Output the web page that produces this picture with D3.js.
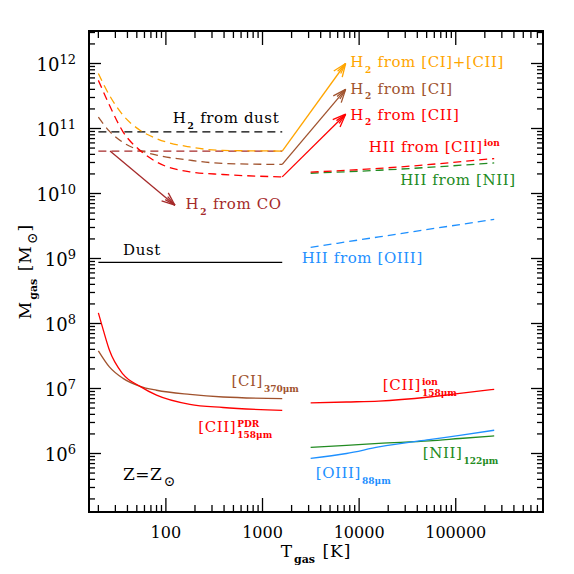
<!DOCTYPE html>
<html><head><meta charset="utf-8">
<script src="https://cdn.jsdelivr.net/npm/d3@7"></script>
<style>body{margin:0;background:#fff}svg{display:block}text{white-space:pre}</style>
</head><body><svg id="c" width="574" height="574"></svg>
<script>
// ---------------- data ----------------
const T_cold = [20, 26, 36, 54, 80, 177, 390, 1600];
const M_H2_CICII = [7.0e11, 3.25e11, 1.6e11, 9.4e10, 7.0e10, 5.2e10, 4.6e10, 4.5e10];
const M_H2_CII   = [5.5e11, 2.3e11, 8.9e10, 4.6e10, 3.06e10, 2.15e10, 1.96e10, 1.8e10];
const M_H2_CI    = [1.5e11, 9.1e10, 6.1e10, 4.6e10, 3.9e10, 3.25e10, 2.9e10, 2.8e10];
const T_flat = [20, 1600];
const M_H2_dust = [8.9e10, 8.9e10];
const M_H2_CO = [4.5e10, 4.5e10];
const M_dust = [8.7e8, 8.7e8];

const T_CII_PDR = [20, 22.5, 26, 36, 54, 80, 177, 390, 1600];
const M_CII_PDR = [1.46e8, 7.9e7, 3.9e7, 1.66e7, 1.08e7, 7.9e6, 5.7e6, 5.1e6, 4.6e6];
const T_CI = [20, 26, 36, 54, 80, 177, 390, 1600];
const M_CI_370 = [3.8e7, 2.15e7, 1.43e7, 1.08e7, 9.4e6, 8.1e6, 7.4e6, 7.0e6];

const T_hot = [3150, 7400, 16000, 53000, 110000, 250000];
const M_CII_ion = [6.0e6, 6.2e6, 6.4e6, 7.4e6, 8.4e6, 9.7e6];
const M_NII_122 = [1.24e6, 1.33e6, 1.43e6, 1.56e6, 1.7e6, 1.87e6];
const M_OIII_88 = [8.4e5, 1.0e6, 1.26e6, 1.64e6, 1.9e6, 2.28e6];

const T_hotd = [3150, 16000, 250000];
const M_HII_CII = [2.13e10, 2.43e10, 3.45e10];
const M_HII_NII = [2.05e10, 2.28e10, 2.95e10];
const M_HII_OIII = [1.48e9, 2.15e9, 4.0e9];

// arrows: [T0, M0, T1, M1]
const arrowCICII = [1600, 4.5e10, 7250, 1.0e12];
const arrowCI    = [1600, 2.8e10, 7250, 4.0e11];
const arrowCII   = [1600, 1.8e10, 7250, 1.66e11];
const arrowCO    = [26.4, 4.5e10, 124, 6.6e9];

const xTickLabels = ["100", "1000", "10000", "100000"];
const xTickValues = [100, 1000, 10000, 100000];
const yTickExp = [6, 7, 8, 9, 10, 11, 12];

const colOrange = "#ffa500", colSienna = "#a0522d", colRed = "#ff0000",
      colCO = "#a52a2a", colGreen = "#228b22", colBlue = "#1e90ff";

// ---------------- layout ----------------
const svg = d3.select("#c");
const L = 89, R = 543, Tp = 31, B = 512;
const x = d3.scaleLog().domain([16, 8e5]).range([L, R]);
const y = d3.scaleLog().domain([Math.pow(10, 5.1), Math.pow(10, 12.5)]).range([B, Tp]);

const serif = "DejaVu Serif";

// ---------------- ticks ----------------
const ax = svg.append("g").attr("stroke", "#000").attr("stroke-width", 1.3);
function minorList(lo, hi) {
  const out = [];
  for (let e = Math.floor(Math.log10(lo)); e <= Math.ceil(Math.log10(hi)); e++)
    for (let k = 1; k <= 9; k++) { const v = k * Math.pow(10, e); if (v > lo && v < hi) out.push({v, major: k === 1}); }
  return out;
}
minorList(16, 8e5).forEach(d => {
  const len = d.major ? 14 : 7, px = x(d.v);
  ax.append("line").attr("x1", px).attr("x2", px).attr("y1", B).attr("y2", B - len);
  ax.append("line").attr("x1", px).attr("x2", px).attr("y1", Tp).attr("y2", Tp + len);
});
minorList(Math.pow(10, 5.1), Math.pow(10, 12.5)).forEach(d => {
  const len = d.major ? 12 : 6, py = y(d.v);
  ax.append("line").attr("y1", py).attr("y2", py).attr("x1", L).attr("x2", L + len);
  ax.append("line").attr("y1", py).attr("y2", py).attr("x1", R).attr("x2", R - len);
});
svg.append("rect").attr("x", L).attr("y", Tp).attr("width", R - L).attr("height", B - Tp)
  .attr("fill", "none").attr("stroke", "#000").attr("stroke-width", 2);

xTickValues.forEach((v, i) => {
  svg.append("text").attr("x", x(v)).attr("y", 538).attr("text-anchor", "middle")
    .attr("font-family", serif).attr("font-size", 16).text(xTickLabels[i]);
});
yTickExp.forEach(e => {
  const py = y(Math.pow(10, e));
  const t = svg.append("text").attr("y", py + 7).attr("x", 76).attr("text-anchor", "end")
    .attr("font-family", serif).attr("font-size", 18);
  t.append("tspan").text("10");
  t.append("tspan").attr("dy", -7).attr("font-size", 13).text(String(e));
});

// ---------------- rich text helper ----------------
function rich(parent, px, py, parts, color, size, ls) {
  const g = parent.append("g").attr("transform", `translate(${px},${py})`).attr("fill", color);
  let cx = 0;
  const small = Math.round(size * 0.62);
  function put(txt, dx, dy, fs, bold, spacing) {
    const t = g.append("text").attr("x", dx).attr("y", dy).attr("font-family", serif)
      .attr("font-size", fs).attr("font-weight", bold ? "bold" : "normal")
      .attr("letter-spacing", spacing || 0).text(txt);
    return t.node().getComputedTextLength();
  }
  parts.forEach(p => {
    if (p.n !== undefined) cx += put(p.n, cx, 0, size, false, ls);
    else if (p.sub !== undefined && p.sup !== undefined) {
      const w1 = put(p.sup, cx + 1, -size * 0.36, small, true);
      const w2 = put(p.sub, cx + 1, size * 0.38, small, true);
      cx += Math.max(w1, w2) + 2;
    } else if (p.sub !== undefined) {
      const big = p.sym ? Math.round(size * 0.8) : small;
      cx += put(p.sub, cx + 1, size * 0.36, big, !p.sym) + 2;
    }
    else if (p.sup !== undefined) cx += put(p.sup, cx + 1, -size * 0.4, small, true) + 2;
  });
  return {g, width: cx};
}

// ---------------- lines ----------------
const line = d3.line().x(d => x(d[0])).y(d => y(d[1])).curve(d3.curveMonotoneX);
function draw(Ts, Ms, color, dashed) {
  svg.append("path").datum(Ts.map((t, i) => [t, Ms[i]])).attr("d", line)
    .attr("fill", "none").attr("stroke", color).attr("stroke-width", 1.3)
    .attr("stroke-dasharray", dashed ? "8,5" : null);
}
function arrow(a, color) {
  const x0 = x(a[0]), y0 = y(a[1]), x1 = x(a[2]), y1 = y(a[3]);
  const g = svg.append("g").attr("stroke", color).attr("stroke-width", 1.3).attr("fill", "none");
  g.append("line").attr("x1", x0).attr("y1", y0).attr("x2", x1).attr("y2", y1);
  const ang = Math.atan2(y1 - y0, x1 - x0), len = 14, hw = 0.38;
  [ang + Math.PI - hw, ang + Math.PI + hw, ang + Math.PI - hw * 0.45, ang + Math.PI + hw * 0.45].forEach((a2, i) => {
    const l = i < 2 ? len : len * 0.8;
    g.append("line").attr("x1", x1).attr("y1", y1)
      .attr("x2", x1 + l * Math.cos(a2)).attr("y2", y1 + l * Math.sin(a2));
  });
}

draw(T_flat, M_H2_dust, "#000", true);
draw(T_flat, M_H2_CO, colCO, true);
draw(T_cold, M_H2_CI, colSienna, true);
draw(T_cold, M_H2_CII, colRed, true);
draw(T_cold, M_H2_CICII, colOrange, true);
draw(T_flat, M_dust, "#000", false);
draw(T_CI, M_CI_370, colSienna, false);
draw(T_CII_PDR, M_CII_PDR, colRed, false);
draw(T_hot, M_CII_ion, colRed, false);
draw(T_hot, M_NII_122, colGreen, false);
draw(T_hot, M_OIII_88, colBlue, false);
draw(T_hotd, M_HII_NII, colGreen, true);
draw(T_hotd, M_HII_CII, colRed, true);
draw(T_hotd, M_HII_OIII, colBlue, true);

arrow(arrowCICII, colOrange);
arrow(arrowCI, colSienna);
arrow(arrowCII, colRed);
arrow(arrowCO, colCO);

// ---------------- labels (anchored in data coords) ----------------
const labels = [
  {T: 118, M: 1.21e11, c: "#000", p: [{n: "H"}, {sub: "2"}, {n: " from dust"}]},
  {T: 160, M: 5.7e9, c: colCO, p: [{n: "H"}, {sub: "2"}, {n: " from CO"}]},
  {T: 36, M: 1.12e9, c: "#000", p: [{n: "Dust"}]},
  {T: 8090, M: 8.7e11, c: colOrange, p: [{n: "H"}, {sub: "2"}, {n: " from [CI]+[CII]"}]},
  {T: 8090, M: 3.45e11, c: colSienna, p: [{n: "H"}, {sub: "2"}, {n: " from [CI]"}]},
  {T: 8090, M: 1.37e11, c: colRed, p: [{n: "H"}, {sub: "2"}, {n: " from [CII]"}]},
  {T: 12600, M: 4.37e10, c: colRed, p: [{n: "HII from [CII]"}, {sup: "ion"}]},
  {T: 26600, M: 1.34e10, c: colGreen, p: [{n: "HII from [NII]"}]},
  {T: 2540, M: 8.4e8, c: colBlue, p: [{n: "HII from [OIII]"}]},
  {T: 477, M: 1.08e7, c: colSienna, p: [{n: "[CI]"}, {sub: "370μm"}]},
  {T: 216, M: 2.15e6, c: colRed, p: [{n: "[CII]"}, {sup: "PDR", sub: "158μm"}]},
  {T: 17600, M: 9.4e6, c: colRed, p: [{n: "[CII]"}, {sup: "ion", sub: "158μm"}]},
  {T: 45500, M: 8.4e5, c: colGreen, p: [{n: "[NII]"}, {sub: "122μm"}]},
  {T: 3550, M: 4.17e5, c: colBlue, p: [{n: "[OIII]"}, {sub: "88μm"}]}
];
labels.forEach(l => rich(svg, x(l.T), y(l.M), l.p, l.c, 15, 0.6));
rich(svg, x(36), y(3.98e5), [{n: "Z=Z"}, {sub: "⊙", sym: true}], "#000", 17, 0.5);

// axis titles
const xt = rich(svg, 0, 0, [{n: "T"}, {sub: "gas"}, {n: " [K]"}], "#000", 17, 1);
xt.g.attr("transform", `translate(${(L + R) / 2 - xt.width / 2},557)`);
const yt = rich(svg, 0, 0, [{n: "M"}, {sub: "gas"}, {n: " [M"}, {sub: "⊙", sym: true}, {n: "]"}], "#000", 17, 1);
yt.g.attr("transform", `translate(31,${(Tp + B) / 2 + yt.width / 2}) rotate(-90)`);
</script></body></html>
